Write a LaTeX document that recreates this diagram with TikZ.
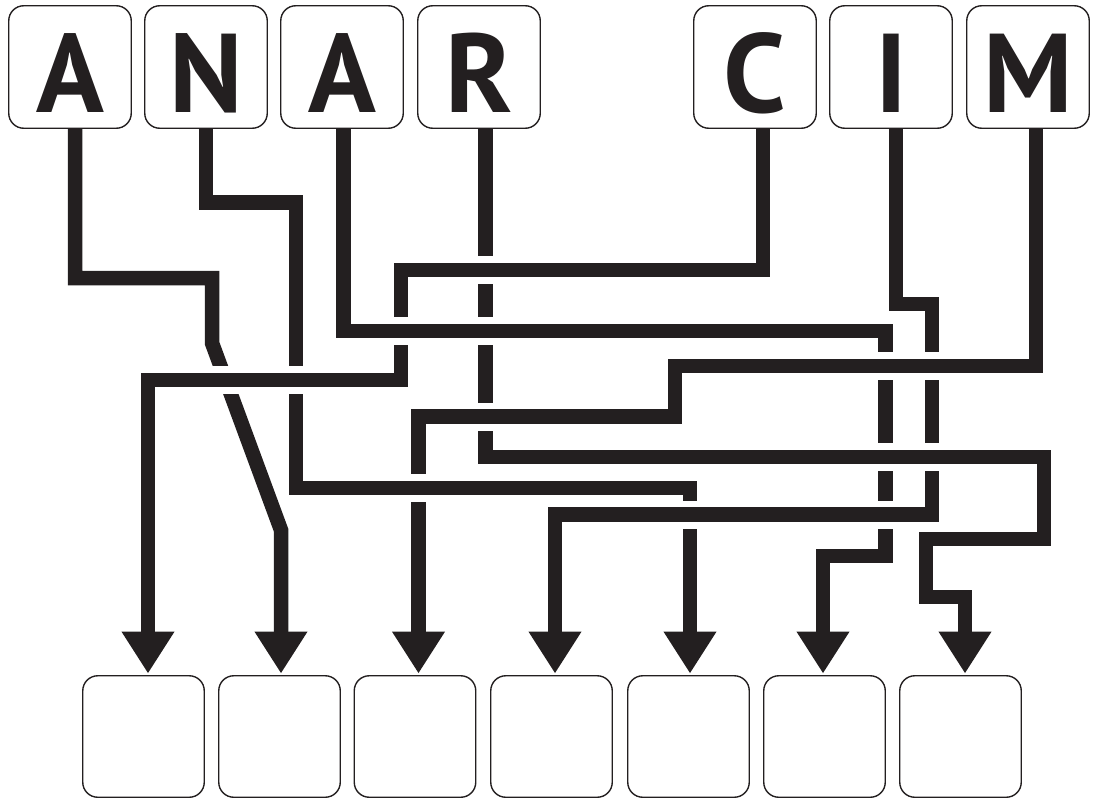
\documentclass[tikz,border=0pt]{standalone}
\usepackage{fontspec}
\setsansfont{PT Sans}
\usetikzlibrary{arrows.meta}
\definecolor{ink}{HTML}{231F20}
\newcommand\overH[2]{\fill[white] ({#1-8},{#2-14}) rectangle ({#1+8},{#2+14}); \draw[wire] ({#1-11},#2) -- ({#1+11},#2);}
\newcommand\overV[2]{\fill[white] ({#1-14},{#2-8}) rectangle ({#1+14},{#2+8}); \draw[wire] (#1,{#2-11}) -- (#1,{#2+11});}
\begin{document}
\begin{tikzpicture}[x=1pt,y=-1pt,
  wire/.style={draw=ink,line width=14.5pt,line join=miter},
  arr/.style={wire,-{Triangle[width=50pt,length=42pt]}},
  topbox/.style={draw=ink,line width=1.4pt,rounded corners=15pt,minimum width=122.5pt,minimum height=122.5pt,inner sep=0pt,fill=white,text=ink,font=\sffamily\bfseries\fontsize{112}{112}\selectfont,text height=91.4pt,text depth=0pt},
  botbox/.style={draw=ink,line width=1.4pt,rounded corners=15pt,minimum width=121.5pt,minimum height=121.5pt,inner sep=0pt,fill=white}]
\useasboundingbox (0,0) rectangle (1094,800);
% top boxes
\node[topbox] (A)  at (70,67)   {A};
\node[topbox] (N)  at (206,67)  {N};
\node[topbox] (A2) at (342,67)  {A};
\node[topbox] (R)  at (479,67)  {R};
\node[topbox] (C)  at (755,67)  {C};
\node[topbox] (I)  at (891,67)  {I};
\node[topbox] (M)  at (1028,67) {M};
% bottom boxes
\node[botbox] (b1) at (143.5,736.5) {};
\node[botbox] (b2) at (279.5,736.5) {};
\node[botbox] (b3) at (415,736.5)   {};
\node[botbox] (b4) at (551.5,736.5) {};
\node[botbox] (b5) at (688.5,736.5) {};
\node[botbox] (b6) at (824.5,736.5) {};
\node[botbox] (b7) at (960.5,736.5) {};
% connectors
\draw[arr] ([xshift=5pt]A.south) -- (75,278) -- (212,278) -- (212,343) -- (281,530) -- ([xshift=1.5pt,yshift=1.5pt]b2.north);
\draw[arr] (N.south) -- (206,202.5) -- (296,202.5) -- (296,488) -- (690,488) -- ([xshift=1.5pt,yshift=1.5pt]b5.north);
\draw[arr] ([xshift=1.5pt]A2.south) -- (343.5,331) -- (885.6,331) -- (885.6,556) -- (823,556) -- ([xshift=-1.5pt,yshift=1.5pt]b6.north);
\draw[arr] ([xshift=6.6pt]R.south) -- (485.6,457) -- (1044,457) -- (1044,539) -- (926,539) -- (926,597) -- (965,597) -- ([xshift=4.5pt,yshift=1.5pt]b7.north);
\draw[arr] ([xshift=8pt]C.south) -- (763,270) -- (401,270) -- (401,380) -- (148,380) -- ([xshift=4.5pt,yshift=1.5pt]b1.north);
\draw[arr] ([xshift=5pt]I.south) -- (896,304) -- (932,304) -- (932,514.5) -- (555,514.5) -- ([xshift=3.5pt,yshift=1.5pt]b4.north);
\draw[arr] ([xshift=8pt]M.south) -- (1036,366) -- (675,366) -- (675,416.7) -- (418.5,416.7) -- ([xshift=3.5pt,yshift=1.5pt]b3.north);
% crossings (top line redrawn, lower line cut)
\overH{485.6}{270}
\overH{485.6}{331}
\overH{485.6}{416.7}
\overH{401}{331}
\overH{296}{380}
\fill[white] (210,366) rectangle (242,394); \draw[wire] (200,380) -- (252,380);
\overH{418.5}{488}
\overH{690}{514.5}
\overH{885.6}{366}
\overH{932}{366}
\overH{885.6}{457}
\overH{932}{457}
\overH{885.6}{514.5}
\end{tikzpicture}
\end{document}
